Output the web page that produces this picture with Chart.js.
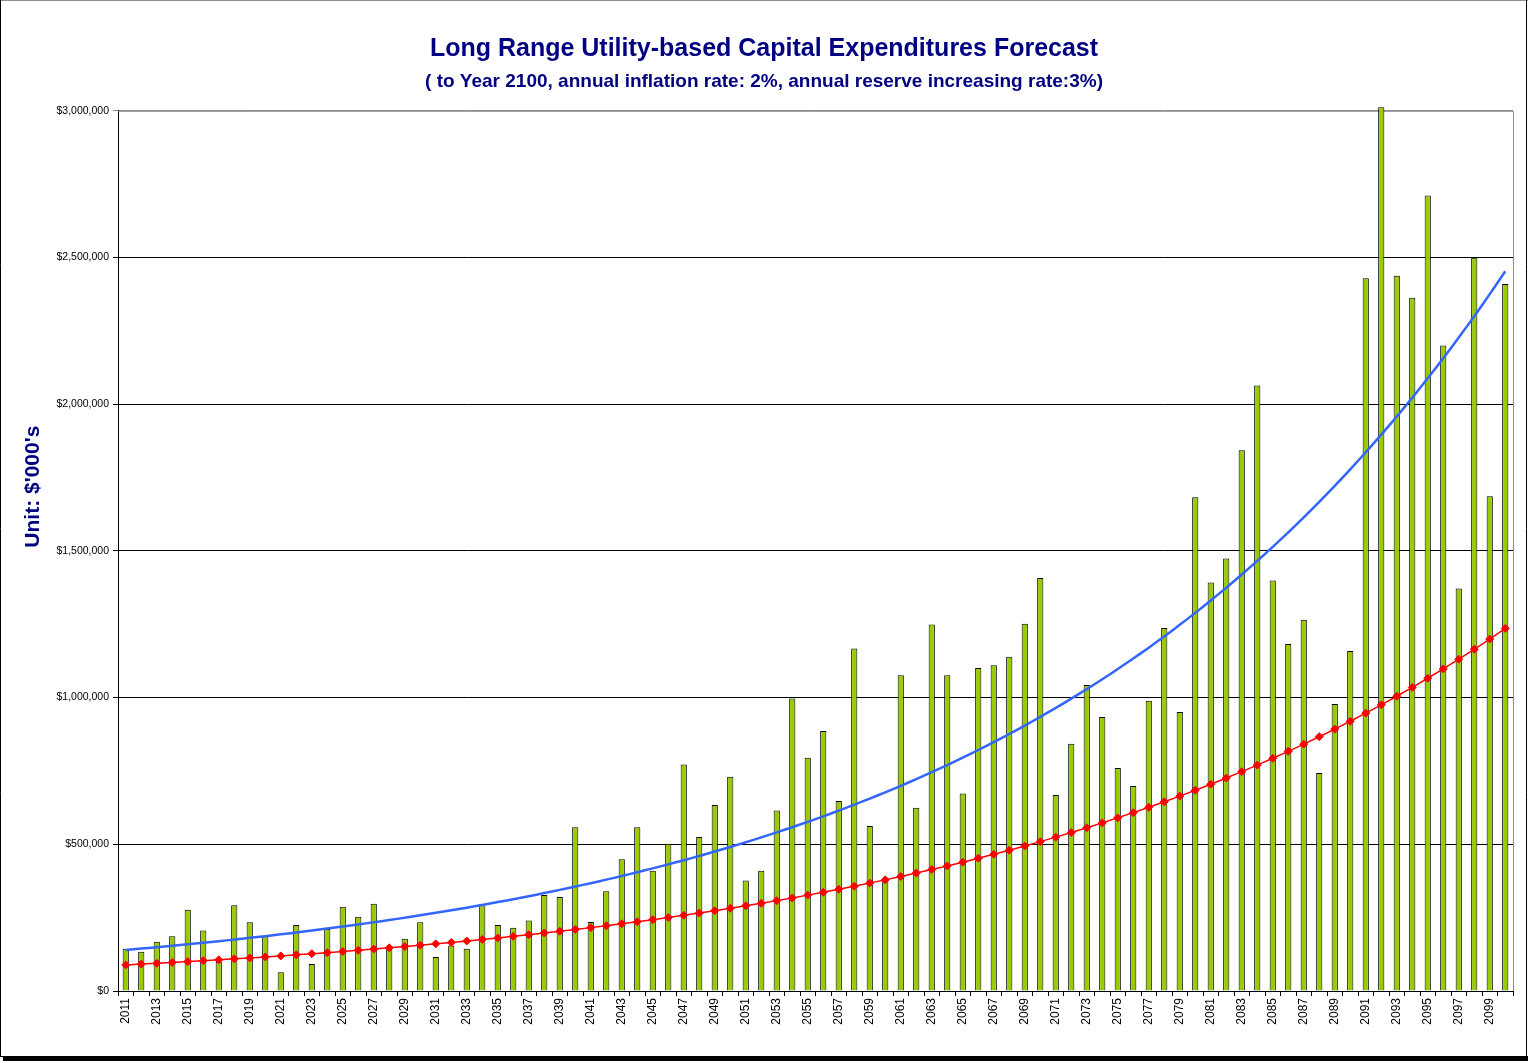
<!DOCTYPE html>
<html>
<head>
<meta charset="utf-8">
<script src="https://cdn.jsdelivr.net/npm/chart.js@4/dist/chart.umd.min.js"></script>
<style>
  html, body { margin: 0; padding: 0; background: #fff; }
  #wrap { width: 1528px; height: 1063px; }
</style>
</head>
<body>
<div id="wrap"><canvas id="capex" width="1528" height="1063"></canvas></div>
<script>
var years = [];
for (var y = 2011; y <= 2100; y++) { years.push(String(y)); }

// yearly capital expenditures ($'000's)
var capex = [
  144000, 134000, 168000, 187000, 277000, 206000, 100000, 292000, 234000, 187000,
  64000, 225000, 92000, 211000, 287000, 253000, 297000, 142000, 178000, 234000,
  116000, 155000, 144000, 297000, 225000, 216000, 240000, 327000, 320000, 558000,
  235000, 340000, 449000, 558000, 410000, 502000, 772000, 525000, 634000, 730000,
  377000, 410000, 615000, 997000, 795000, 886000, 648000, 1167000, 562000, 382000,
  1076000, 625000, 1249000, 1076000, 673000, 1101000, 1110000, 1139000, 1252000, 1408000,
  668000, 843000, 1043000, 934000, 760000, 699000, 989000, 1237000, 951000, 1683000,
  1392000, 1474000, 1843000, 2064000, 1399000, 1183000, 1265000, 743000, 978000, 1159000,
  2429000, 3012000, 2438000, 2363000, 2711000, 2200000, 1372000, 2499000, 1686000, 2410000
];

// reserve line (red diamonds)
var reserve = [
  89000, 91700, 94400, 97300, 100200, 103200, 106300, 109500, 112700, 116100,
  119600, 123200, 126900, 130700, 134600, 138700, 142800, 147100, 151500, 156100,
  160700, 165600, 170500, 175700, 180900, 186400, 191900, 197700, 203600, 209700,
  216000, 222500, 229200, 236100, 243100, 250400, 257900, 265700, 273700, 281900,
  290300, 299000, 308000, 317200, 326800, 336600, 346700, 357100, 367800, 378800,
  390200, 401900, 413900, 426300, 439100, 452300, 465900, 479900, 494200, 509100,
  524400, 540100, 556300, 573000, 590200, 607900, 626100, 644900, 664200, 684200,
  704700, 725800, 747600, 770000, 793100, 816900, 841400, 866700, 892700, 919400,
  947000, 975400, 1004700, 1034800, 1065900, 1097900, 1130800, 1164700, 1199700, 1235700
];

// trend curve (blue)
var trend = [
  140000, 144600, 149300, 154200, 159200, 164400, 169800, 175300, 181100, 187000,
  193100, 199400, 205900, 212700, 219600, 226800, 234200, 241900, 249800, 258000,
  266400, 275100, 284100, 293400, 303000, 312900, 323100, 333700, 344600, 355900,
  367500, 379500, 391900, 404700, 418000, 431600, 445700, 460300, 475400, 490900,
  507000, 523500, 540600, 558300, 576600, 595400, 614900, 635000, 655800, 677200,
  699300, 722200, 745800, 770200, 795400, 821400, 848300, 876000, 904700, 934200,
  964800, 996300, 1028900, 1062500, 1097300, 1133200, 1170200, 1208500, 1248000, 1288800,
  1331000, 1374500, 1419400, 1465800, 1513800, 1563300, 1614400, 1667200, 1721700, 1778000,
  1836100, 1896200, 1958200, 2022200, 2088300, 2156600, 2227200, 2300000, 2375200, 2452900
];

var NAVY = '#000080';
var FONT = "'Liberation Sans', Arial, sans-serif";

// plot border (grey top/right), y title, outer frame
var decorations = {
  id: 'decorations',
  beforeDatasetsDraw: function(chart) {
    var a = chart.chartArea, ctx = chart.ctx;
    ctx.save();
    ctx.strokeStyle = '#8c8c8c';
    ctx.lineWidth = 1;
    ctx.beginPath();
    ctx.moveTo(a.left, a.top + 0.5);
    ctx.lineTo(a.right + 0.5, a.top + 0.5);
    ctx.lineTo(a.right + 0.5, a.bottom);
    ctx.stroke();
    ctx.restore();
  },
  afterDraw: function(chart) {
    var a = chart.chartArea, ctx = chart.ctx;
    var w = chart.width, h = chart.height;
    ctx.save();
    ctx.translate(33, a.top + (a.bottom - a.top) * 0.427);
    ctx.rotate(-Math.PI / 2);
    ctx.fillStyle = NAVY;
    ctx.font = "bold 21px " + FONT;
    ctx.textAlign = 'center';
    ctx.textBaseline = 'middle';
    ctx.fillText("Unit: $'000's", 0, 0);
    ctx.restore();

    ctx.save();
    ctx.lineWidth = 1;
    ctx.strokeStyle = '#909090';
    ctx.beginPath();
    ctx.moveTo(0, 0.5); ctx.lineTo(w, 0.5);
    ctx.stroke();
    ctx.strokeStyle = '#000';
    ctx.beginPath();
    ctx.moveTo(0.5, 0); ctx.lineTo(0.5, h - 6);
    ctx.moveTo(w - 1.5, 0); ctx.lineTo(w - 1.5, h - 6);
    ctx.moveTo(0, h - 6.5); ctx.lineTo(w, h - 6.5);
    ctx.stroke();
    ctx.fillStyle = '#000';
    ctx.fillRect(3, h - 6, w - 3, 4);
    ctx.restore();
  }
};

new Chart(document.getElementById('capex'), {
  data: {
    labels: years,
    datasets: [
      {
        type: 'line',
        label: 'Reserve',
        data: reserve,
        borderColor: '#ff0000',
        backgroundColor: '#ff0000',
        borderWidth: 1.5,
        pointStyle: 'rectRot',
        pointRadius: 4,
        pointBorderWidth: 1,
        tension: 0,
        order: 1
      },
      {
        type: 'line',
        label: 'Trend',
        data: trend,
        borderColor: '#3366ff',
        borderWidth: 2.5,
        pointRadius: 0,
        tension: 0.3,
        order: 2
      },
      {
        type: 'bar',
        label: 'Capital Expenditures',
        data: capex,
        backgroundColor: '#99cc00',
        borderColor: '#000',
        borderWidth: 1,
        barPercentage: 0.4,
        categoryPercentage: 1,
        clip: false,
        order: 3
      }
    ]
  },
  options: {
    responsive: false,
    animation: false,
    layout: { padding: { left: 15, right: 15, top: 34, bottom: 0 } },
    plugins: {
      legend: { display: false },
      tooltip: { enabled: false },
      title: {
        display: true,
        text: 'Long Range Utility-based Capital Expenditures Forecast',
        color: NAVY,
        font: { family: FONT, size: 25, weight: 'bold' },
        padding: { top: 0, bottom: 6 }
      },
      subtitle: {
        display: true,
        text: '( to Year 2100, annual inflation rate: 2%, annual reserve increasing rate:3%)',
        color: NAVY,
        font: { family: FONT, size: 19, weight: 'bold' },
        padding: { top: 0, bottom: 18 }
      }
    },
    scales: {
      x: {
        offset: true,
        grid: {
          display: true,
          offset: true,
          drawOnChartArea: false,
          drawTicks: true,
          tickLength: 5,
          color: '#000'
        },
        border: { display: true, color: '#000', width: 1 },
        ticks: {
          autoSkip: false,
          minRotation: 90,
          maxRotation: 90,
          padding: 2,
          color: '#000',
          font: { family: FONT, size: 12 },
          callback: function(v, i) { return i % 2 === 0 ? years[i] : ''; }
        },
        afterFit: function(s) { s.height = 72; }
      },
      y: {
        min: 0,
        max: 3000000,
        grid: {
          color: function(c) { return c.tick && c.tick.value === 3000000 ? '#8c8c8c' : '#000'; },
          lineWidth: 1,
          drawTicks: true,
          tickLength: 5
        },
        border: { display: true, color: '#000', width: 1 },
        ticks: {
          stepSize: 500000,
          padding: 4,
          color: '#000',
          font: { family: FONT, size: 10.5 },
          callback: function(v) { return '$' + Number(v).toLocaleString('en-US'); }
        },
        afterFit: function(s) { s.width = 103; }
      }
    }
  },
  plugins: [decorations]
});
</script>
</body>
</html>
